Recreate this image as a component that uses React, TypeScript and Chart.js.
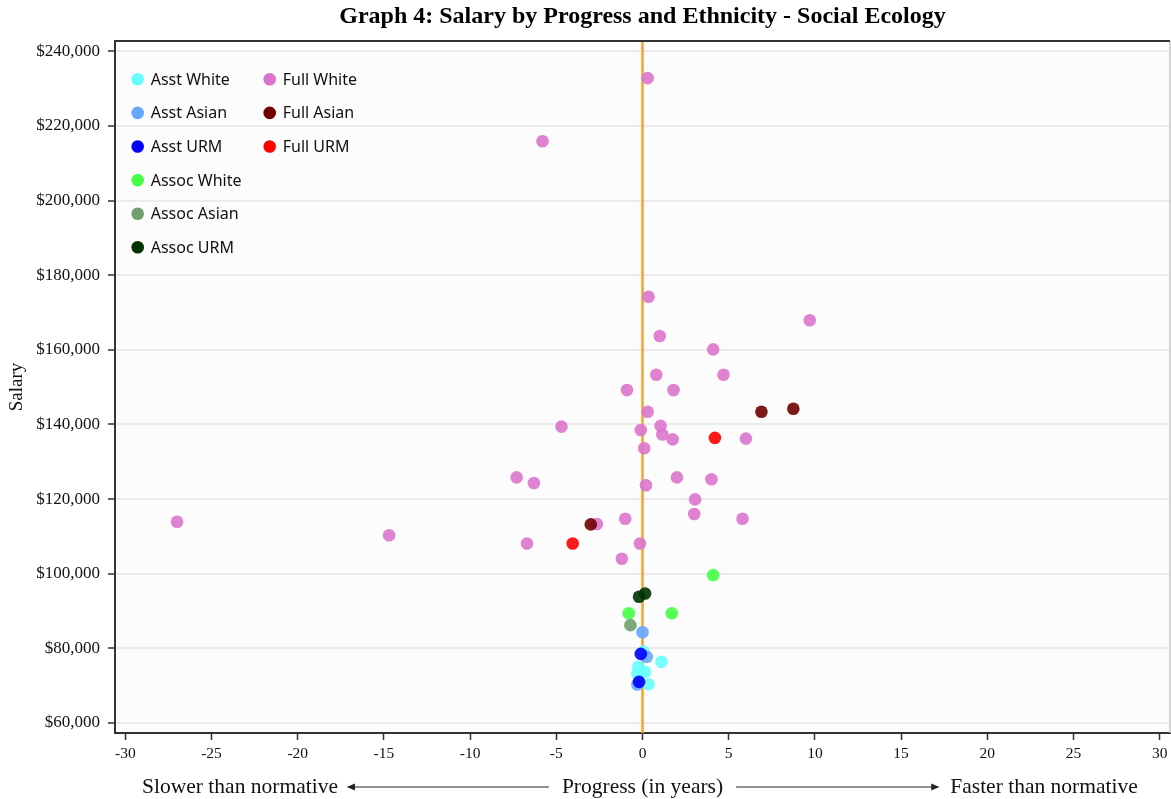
import React, { useEffect, useRef } from "react";
import { Chart, registerables } from "chart.js";

Chart.register(...registerables);

// ---------- texts ----------
const TITLE = "Graph 4: Salary by Progress and Ethnicity - Social Ecology";
const Y_TITLE = "Salary";
const X_TITLE = "Progress (in years)";
const X_LEFT_NOTE = "Slower than normative";
const X_RIGHT_NOTE = "Faster than normative";

// ---------- ticks ----------
const xTicks = [-30, -25, -20, -15, -10, -5, 0, 5, 10, 15, 20, 25, 30];
const yTicks = [60000, 80000, 100000, 120000, 140000, 160000, 180000, 200000, 220000, 240000];

// ---------- series: [progress (years), salary] ----------
const asstWhite = [
  [0.05, 79100], [1.1, 76400], [-0.25, 75050], [0.15, 73700], [-0.3, 73100], [0.35, 70350],
];
const asstAsian = [
  [0.0, 84300], [0.25, 77700], [-0.3, 70300],
];
const asstUrm = [
  [-0.1, 78500], [-0.2, 71000],
];
const assocWhite = [
  [4.1, 99600], [-0.8, 89400], [1.7, 89400],
];
const assocAsian = [
  [-0.7, 86200],
];
const assocUrm = [
  [-0.2, 93800], [0.15, 94700],
];
const fullWhite = [
  [0.3, 232800], [-5.8, 215900], [0.35, 174200], [9.7, 167900], [1.0, 163700],
  [4.1, 160100], [0.8, 153300], [4.7, 153300], [-0.9, 149200], [1.8, 149200],
  [0.3, 143400], [-4.7, 139400], [-0.1, 138500], [1.05, 139600], [1.15, 137300],
  [1.75, 136000], [6.0, 136200], [0.1, 133600], [-7.3, 125800], [-6.3, 124300],
  [2.0, 125800], [4.0, 125300], [0.2, 123700], [3.05, 119900], [3.0, 116000],
  [-27.0, 113900], [-1.0, 114700], [5.8, 114700], [-2.65, 113300], [-14.7, 110300],
  [-6.7, 108100], [-0.15, 108100], [-1.2, 104000],
];
const fullAsian = [
  [-3.0, 113200], [6.9, 143400], [8.75, 144200],
];
const fullUrm = [
  [-4.05, 108100], [4.2, 136400],
];

const seriesNames = [
  "Asst White", "Asst Asian", "Asst URM",
  "Assoc White", "Assoc Asian", "Assoc URM",
  "Full White", "Full Asian", "Full URM",
];
const seriesData = [
  asstWhite, asstAsian, asstUrm,
  assocWhite, assocAsian, assocUrm,
  fullWhite, fullAsian, fullUrm,
];
const seriesRgb = [
  [102, 255, 255], [102, 166, 255], [0, 0, 255],
  [68, 255, 68], [112, 160, 112], [0, 51, 0],
  [218, 116, 204], [112, 0, 0], [255, 0, 0],
];

const SERIF = "'Liberation Serif', 'Times New Roman', serif";
const SANS = "'Noto Sans', 'DejaVu Sans', sans-serif";

const decorPlugin = {
  id: "decor",
  beforeDraw(chart: any) {
    const { ctx, chartArea: a } = chart;
    ctx.save();
    ctx.fillStyle = "#fcfcfc";
    ctx.fillRect(a.left, a.top, a.right - a.left, a.bottom - a.top);
    ctx.restore();
  },
  beforeDatasetsDraw(chart: any) {
    const { ctx, chartArea: a, scales } = chart;
    const x0 = scales.x.getPixelForValue(0);
    ctx.save();
    ctx.strokeStyle = "#f2a530";
    ctx.lineWidth = 2.5;
    ctx.beginPath();
    ctx.moveTo(x0, a.top);
    ctx.lineTo(x0, a.bottom);
    ctx.stroke();
    ctx.restore();
  },
  afterDraw(chart: any) {
    const { ctx, chartArea: a } = chart;
    ctx.save();
    // top & right frame
    ctx.strokeStyle = "#c8c8c8";
    ctx.lineWidth = 1.5;
    ctx.beginPath();
    ctx.moveTo(a.right, a.top);
    ctx.lineTo(a.right, a.bottom);
    ctx.stroke();
    ctx.strokeStyle = "#333";
    ctx.lineWidth = 2;
    ctx.beginPath();
    ctx.moveTo(a.left, a.top);
    ctx.lineTo(a.right, a.top);
    ctx.stroke();

    // title
    const cx = (a.left + a.right) / 2;
    ctx.fillStyle = "#000";
    ctx.font = `bold 24px ${SERIF}`;
    ctx.textAlign = "center";
    ctx.textBaseline = "middle";
    ctx.fillText(TITLE, cx, 17);

    // bottom axis notes with arrows
    const ny = 787;
    ctx.font = `21.5px ${SERIF}`;
    ctx.fillStyle = "#111";
    ctx.fillText(X_TITLE, cx, ny);
    ctx.fillText(X_LEFT_NOTE, 240, ny);
    ctx.fillText(X_RIGHT_NOTE, 1044, ny);
    const wMid = ctx.measureText(X_TITLE).width;
    const wL = ctx.measureText(X_LEFT_NOTE).width;
    const wR = ctx.measureText(X_RIGHT_NOTE).width;
    const lStart = cx - wMid / 2 - 13;
    const lEnd = 240 + wL / 2 + 10;
    const rStart = cx + wMid / 2 + 13;
    const rEnd = 1044 - wR / 2 - 12;
    ctx.strokeStyle = "#222";
    ctx.lineWidth = 1;
    ctx.beginPath();
    ctx.moveTo(lStart, ny);
    ctx.lineTo(lEnd, ny);
    ctx.moveTo(rStart, ny);
    ctx.lineTo(rEnd, ny);
    ctx.stroke();
    ctx.fillStyle = "#222";
    ctx.beginPath();
    ctx.moveTo(lEnd - 1, ny);
    ctx.lineTo(lEnd + 7, ny - 3.5);
    ctx.lineTo(lEnd + 7, ny + 3.5);
    ctx.closePath();
    ctx.fill();
    ctx.beginPath();
    ctx.moveTo(rEnd + 1, ny);
    ctx.lineTo(rEnd - 7, ny - 3.5);
    ctx.lineTo(rEnd - 7, ny + 3.5);
    ctx.closePath();
    ctx.fill();

    // legend (two columns)
    const colX = [a.left + 22.7, a.left + 154.7];
    const rowY0 = a.top + 38.3;
    const rowStep = 33.6;
    ctx.font = `16px ${SANS}`;
    ctx.textAlign = "left";
    ctx.textBaseline = "middle";
    seriesNames.forEach((name, i) => {
      const col = i < 6 ? 0 : 1;
      const row = i < 6 ? i : i - 6;
      const x = colX[col];
      const y = rowY0 + row * rowStep;
      const [r, g, b] = seriesRgb[i];
      ctx.fillStyle = `rgb(${r},${g},${b})`;
      ctx.beginPath();
      ctx.arc(x, y, 6.3, 0, Math.PI * 2);
      ctx.fill();
      ctx.fillStyle = "#111";
      ctx.fillText(name, x + 13, y + 1);
    });
    ctx.restore();
  },
};

export default function App() {
  const canvasRef = useRef<HTMLCanvasElement | null>(null);

  useEffect(() => {
    if (!canvasRef.current) return;
    const datasets = seriesNames.map((name, i) => {
      const [r, g, b] = seriesRgb[i];
      return {
        label: name,
        data: seriesData[i].map(([x, y]) => ({ x, y })),
        backgroundColor: `rgba(${r},${g},${b},0.9)`,
        borderWidth: 0,
        pointRadius: 6.3,
        pointHoverRadius: 6.3,
        order: -i,
      };
    });

    const noPad = (s: any) => {
      s.paddingLeft = 0;
      s.paddingRight = 0;
      s.paddingTop = 0;
      s.paddingBottom = 0;
    };

    const chart = new Chart(canvasRef.current, {
      type: "scatter",
      data: { datasets },
      plugins: [decorPlugin],
      options: {
        animation: false,
        responsive: false,
        maintainAspectRatio: false,
        devicePixelRatio: window.devicePixelRatio || 1,
        layout: { autoPadding: false, padding: { top: 41, right: 1, bottom: 0, left: 0 } },
        plugins: {
          legend: { display: false },
          title: { display: false },
          tooltip: { enabled: false },
        },
        scales: {
          x: {
            type: "linear",
            min: -30.6,
            max: 30.6,
            afterFit: (s: any) => {
              s.height = 66;
              noPad(s);
            },
            afterBuildTicks: (s: any) => {
              s.ticks = xTicks.map((v) => ({ value: v }));
            },
            grid: {
              display: true,
              drawOnChartArea: false,
              drawTicks: true,
              tickLength: 7,
              tickColor: "#333",
              tickWidth: 1.5,
            },
            border: { display: true, color: "#333", width: 2 },
            ticks: {
              autoSkip: false,
              maxRotation: 0,
              padding: 5,
              color: "#111",
              font: { family: SERIF, size: 15.5 },
            },
          },
          y: {
            type: "linear",
            min: 57300,
            max: 242750,
            afterFit: (s: any) => {
              s.width = 115;
              noPad(s);
            },
            afterBuildTicks: (s: any) => {
              s.ticks = yTicks.map((v) => ({ value: v }));
            },
            grid: {
              display: true,
              color: "#ebebeb",
              lineWidth: 2,
              drawTicks: true,
              tickLength: 7,
              tickColor: "#333",
              tickWidth: 1.5,
            },
            border: { display: true, color: "#333", width: 2 },
            title: {
              display: true,
              text: Y_TITLE,
              color: "#111",
              font: { family: SERIF, size: 19 },
              padding: { top: 6, bottom: 0 },
            },
            ticks: {
              autoSkip: false,
              padding: 8,
              color: "#111",
              font: { family: SERIF, size: 17 },
              callback: (v: any) => "$" + Number(v).toLocaleString("en-US"),
            },
          },
        },
      },
    });
    return () => chart.destroy();
  }, []);

  return (
    <div style={{ position: "fixed", left: 0, top: 0, width: 1171, height: 799, background: "#fff" }}>
      <canvas ref={canvasRef} width={1171} height={799} style={{ display: "block", width: 1171, height: 799 }} />
    </div>
  );
}
